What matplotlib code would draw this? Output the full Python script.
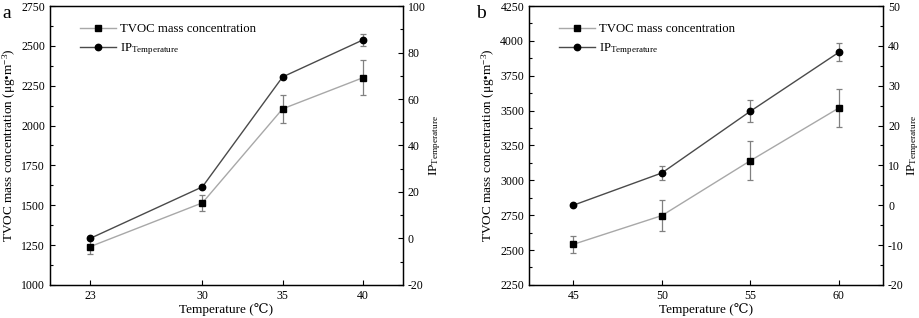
import matplotlib
matplotlib.use("Agg")
import matplotlib.pyplot as plt
from matplotlib.ticker import MultipleLocator

plt.rcParams["font.family"] = ["Liberation Serif", "DejaVu Serif"]
plt.rcParams["mathtext.fontset"] = "custom"
plt.rcParams["mathtext.rm"] = "Liberation Serif"
plt.rcParams["mathtext.it"] = "Liberation Serif:italic"
plt.rcParams["axes.unicode_minus"] = False

# panel a
temp_a = [23, 30, 35, 40]
tvoc_a = [1240, 1515, 2105, 2300]
tvoc_err_a = [45, 50, 87, 110]
ip_a = [0.0, 22.2, 69.5, 85.4]
ip_err_a = [0.0, 0.0, 0.0, 2.5]

# panel b
temp_b = [45, 50, 55, 60]
tvoc_b = [2541, 2747, 3141, 3519]
tvoc_err_b = [60, 110, 138, 138]
ip_b = [0.0, 8.1, 23.6, 38.4]
ip_err_b = [0.0, 1.75, 2.7, 2.3]

TVOC_LINE = "#a8a8a8"
IP_LINE = "#4a4a4a"
ERR = "#808080"


def style_ticks(ax):
    ax.tick_params(which="major", direction="in", length=3.5, width=0.8, labelsize=8.5)
    ax.tick_params(which="minor", direction="in", length=2, width=0.8)
    for s in ax.spines.values():
        s.set_linewidth(0.9)


def panel(rect, temps, tvoc, tvoc_err, ip, ip_err, xlim, ylim, yrange2, ystep2, letter, letter_x):
    ax = fig.add_axes(rect)
    ax2 = ax.twinx()

    ax.errorbar(temps, tvoc, yerr=tvoc_err, fmt="none", ecolor=ERR, elinewidth=0.9,
                capsize=2.5, capthick=0.9, zorder=2)
    l1, = ax.plot(temps, tvoc, "-s", color=TVOC_LINE, lw=1.0, ms=4.2,
                  mfc="black", mec="black", zorder=3, label="TVOC mass concentration")
    ax2.errorbar(temps, ip, yerr=ip_err, fmt="none", ecolor=ERR, elinewidth=0.9,
                 capsize=2.5, capthick=0.9, zorder=2)
    l2, = ax2.plot(temps, ip, "-o", color=IP_LINE, lw=1.0, ms=4.6,
                   mfc="black", mec="black", zorder=3, label=r"IP$_{\mathrm{Temperature}}$")

    ax.set_xlim(*xlim)
    ax.set_xticks(temps)
    ax.set_ylim(*ylim)
    ax.yaxis.set_major_locator(MultipleLocator(250))
    ax.yaxis.set_minor_locator(MultipleLocator(125))
    ax2.set_ylim(*yrange2)
    ax2.yaxis.set_major_locator(MultipleLocator(ystep2))
    ax2.yaxis.set_minor_locator(MultipleLocator(ystep2 / 2))
    style_ticks(ax)
    style_ticks(ax2)

    ax.set_xlabel("Temperature (\u2103)", fontsize=9.5, labelpad=1)
    ax.set_ylabel("TVOC mass concentration (\u03bcg\u2022m$^{-3}$)", fontsize=9.5, labelpad=2)
    ax2.set_ylabel(r"IP$_{\mathrm{Temperature}}$", fontsize=9.5, labelpad=1)

    ax2.legend(handles=[l1, l2], loc="upper left", bbox_to_anchor=(0.06, 0.97),
               frameon=False, fontsize=9.2, handlelength=2.8, handletextpad=0.3,
               labelspacing=0.45, borderaxespad=0.3)
    fig.text(letter_x, 0.985, letter, fontsize=14, va="top", ha="left")
    return ax, ax2


fig = plt.figure(figsize=(9.2, 3.18), dpi=100)

panel([0.0543, 0.104, 0.3837, 0.877], temp_a, tvoc_a, tvoc_err_a, ip_a, ip_err_a,
      (20.5, 42.5), (1000, 2750), (-20, 100), 20, "a", 0.003)
panel([0.575, 0.104, 0.385, 0.877], temp_b, tvoc_b, tvoc_err_b, ip_b, ip_err_b,
      (42.5, 62.5), (2250, 4250), (-20, 50), 10, "b", 0.518)

fig.savefig("out.png", dpi=100)
